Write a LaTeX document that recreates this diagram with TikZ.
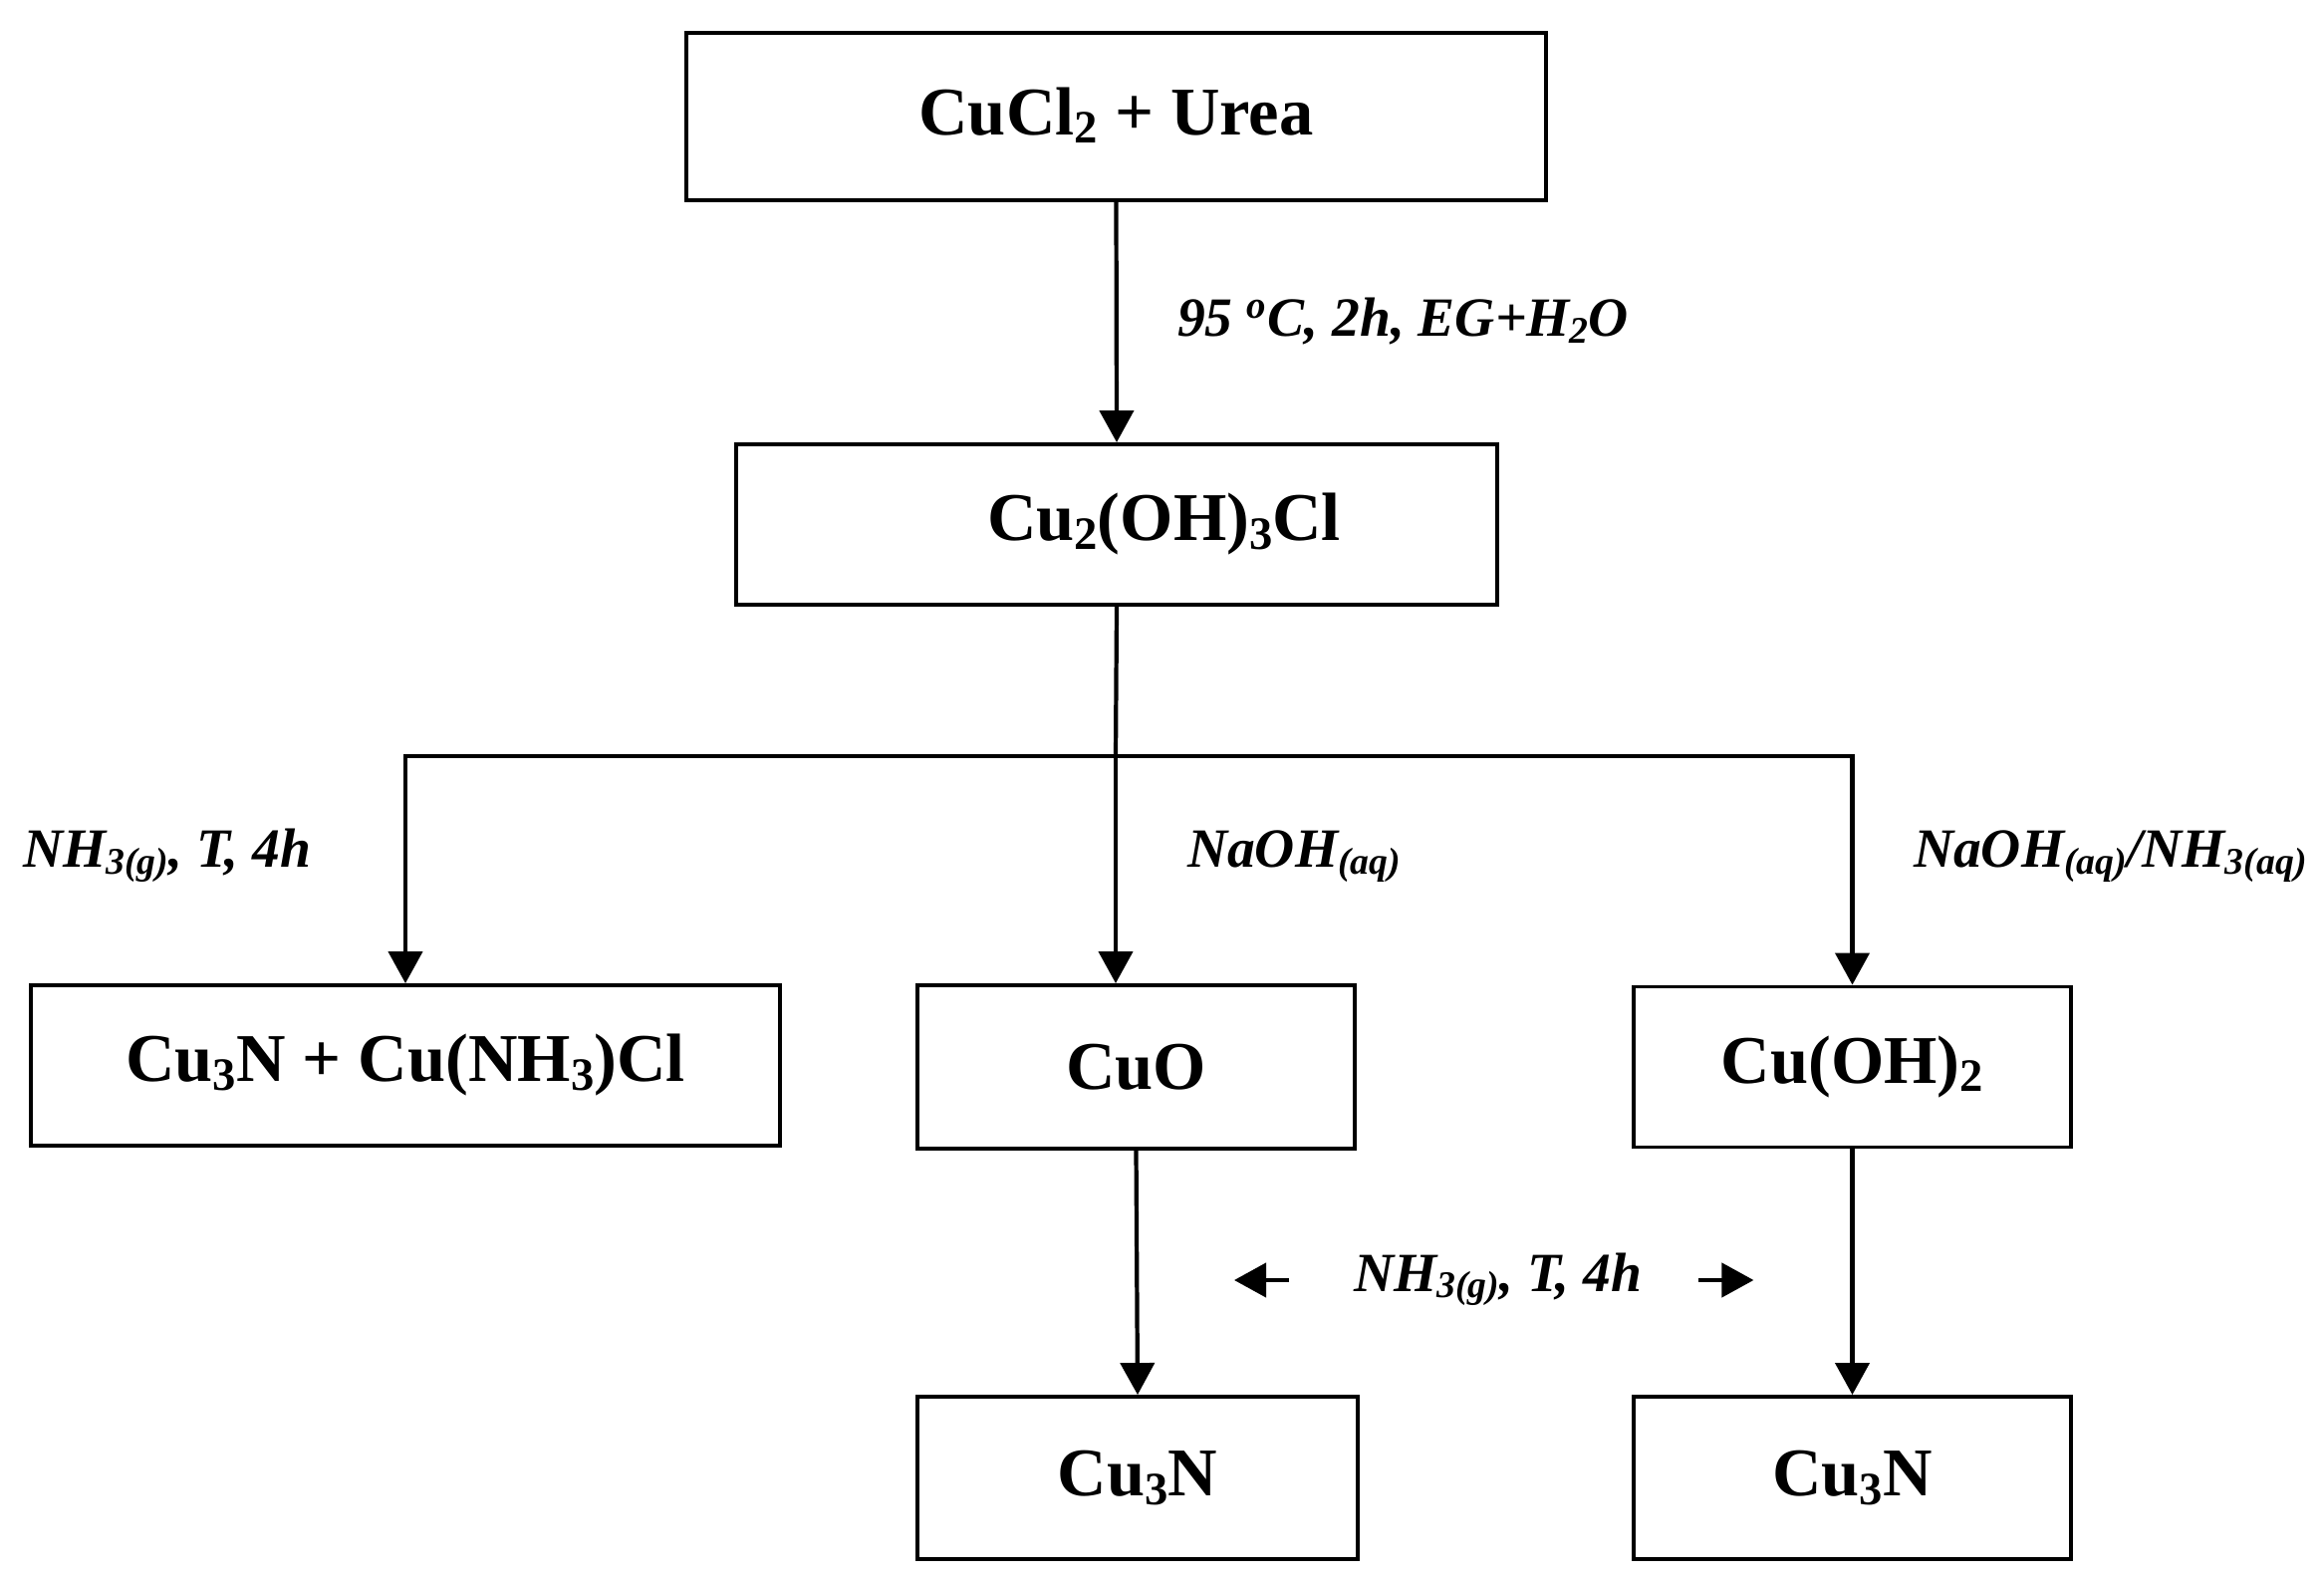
\documentclass[tikz,border=0pt]{standalone}
\usepackage{fontspec}
\setmainfont{Liberation Serif}
\usetikzlibrary{arrows.meta}
\tikzset{chembox/.style={draw, line width=1.1pt, inner sep=0pt, font=\fontsize{19.5}{23}\selectfont\bfseries}}
\tikzset{cond/.style={inner sep=0pt, font=\fontsize{15.8}{19}\selectfont\bfseries\itshape}}
\newcommand{\chsub}[1]{\raisebox{-0.12em}{\scalebox{0.68}{#1}}}

\begin{document}
\begin{tikzpicture}[line width=1.2pt, >={Triangle[length=3.2mm,width=3.4mm]}]
    \useasboundingbox (0,0) rectangle (23.33,-15.86);

    \node[chembox, minimum width=8.63cm, minimum height=1.68cm] at (11.205,-1.17) (cucl){\raisebox{1mm}{CuCl\chsub{2} + Urea}};
    \node[chembox, minimum width=7.64cm, minimum height=1.61cm] at (11.21,-5.265) (cuoh){\hspace*{0.95cm}Cu\chsub{2}(OH)\chsub{3}Cl};

    \node[chembox, minimum width=7.52cm, minimum height=1.61cm] at (4.07,-10.695) (mix){Cu\chsub{3}N + Cu(NH\chsub{3})Cl};
    \node[chembox, minimum width=4.39cm, minimum height=1.64cm] at (11.405,-10.71) (cuo){CuO};
    \node[chembox, minimum width=4.39cm, minimum height=1.61cm] at (18.595,-10.71) (cuoh2){Cu(OH)\chsub{2}};

    \node[chembox, minimum width=4.42cm, minimum height=1.63cm] at (11.42,-14.835) (cun1){Cu\chsub{3}N};
    \node[chembox, minimum width=4.39cm, minimum height=1.63cm] at (18.595,-14.835) (cun2){Cu\chsub{3}N};

    % conditions
    \node[cond, anchor=base west] at (11.80,-3.38) (t1){95 \textsuperscript{o}C, 2h, EG+H\chsub{2}O};
    \node[cond, anchor=base west] at (0.21,-8.71) (t2){NH\chsub{3(g)}, T, 4h};
    \node[cond, anchor=base west] at (11.90,-8.71) (t3){NaOH\chsub{(aq)}};
    \node[cond, anchor=base west] at (19.19,-8.71) (t4){NaOH\chsub{(aq)}/NH\chsub{3(aq)}};
    \node[cond, anchor=base west] at (13.57,-12.96) (t5){NH\chsub{3(g)}, T, 4h};

    \draw[->] (cucl.south) -- (cuoh.north);

    \coordinate (br) at (11.20,-7.59);
    \draw (cuoh.south) -- (br);
    \draw[->] (br) -| (mix.north);
    \draw[->] (br) -| (cuoh2.north);
    \draw[->] (br) -- (br |- cuo.north);

    \draw[->] (cuo.south) -- (cun1.north);
    \draw[->] (cuoh2.south) -- (cun2.north);

    \draw[->] ([xshift=-6.3mm,yshift=1.1mm]t5.base west) -- ++(-5.5mm,0);
    \draw[->] ([xshift=5.5mm,yshift=1.1mm]t5.base east) -- ++(5.5mm,0);
\end{tikzpicture}
\end{document}
